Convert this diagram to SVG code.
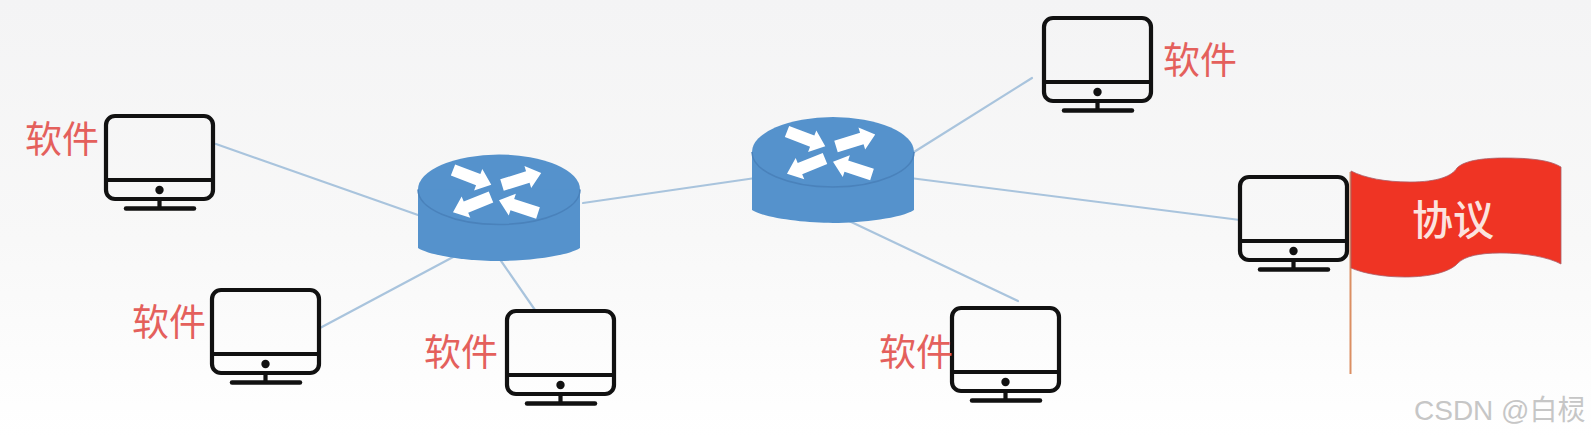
<svg xmlns="http://www.w3.org/2000/svg" width="1591" height="437" viewBox="0 0 1591 437">
<style>
.ln{stroke:#a9c4dd;stroke-width:2.2;fill:none;stroke-linecap:round}
.m{fill:none;stroke:#111111;stroke-width:4.200}
.lab{font-family:"Noto Sans CJK SC","Liberation Sans",sans-serif;font-size:37px;fill:#e4605c;text-anchor:middle;dominant-baseline:central}
.body{fill:#5592cc}
.rim{fill:none;stroke:#4a82bb;stroke-width:1.500}
.wm{font-family:"Liberation Sans","Noto Sans CJK SC",sans-serif;font-size:28px;fill:#c6c6c6}
</style>
<defs>
<linearGradient id="bg" x1="0" y1="0" x2="0" y2="1"><stop offset="0" stop-color="#f4f4f5"/><stop offset="0.55" stop-color="#f8f8f8"/><stop offset="0.86" stop-color="#fdfdfd"/><stop offset="1" stop-color="#ffffff"/></linearGradient>
<path id="ar" d="M0-6H27V-11.500L41 0L27 11.500V6H0Z" fill="#ffffff"/>
<g id="monitor">
<rect class="m" x="1" y="1" width="107" height="83" rx="9"/>
<path class="m" d="M1 65H108M54.500 84V93"/>
<path d="M21 93.500H89" stroke="#111111" stroke-width="4.500" stroke-linecap="round"/>
<circle cx="54.500" cy="75" r="4.200" fill="#111111"/>
</g>
<g id="arrows">
<use href="#ar" transform="translate(453 170) rotate(21)"/>
<use href="#ar" transform="translate(502 185) rotate(-17)"/>
<use href="#ar" transform="translate(491 197) rotate(158)"/>
<use href="#ar" transform="translate(538 213) rotate(198)"/>
</g>
</defs>
<rect width="1591" height="437" fill="url(#bg)"/>
<g id="connectors">
<path class="ln" d="M216 144L418 215"/>
<path class="ln" d="M320 328L455 256"/>
<path class="ln" d="M499 258L535 310"/>
<path class="ln" d="M583 203L752 178.500"/>
<path class="ln" d="M914 152L1032 78"/>
<path class="ln" d="M914 178.500L1240 220"/>
<path class="ln" d="M847 220L1018 301"/>
</g>
<g id="router1">
<ellipse class="body" cx="499" cy="189.500" rx="81" ry="35"/>
<path class="body" d="M418 189.500V248C430 256 470 261 499 261S568 256 580 248V189.500Z"/>
<path class="rim" d="M418 189.500A81 35 0 0 0 580 189.500"/>
<use href="#arrows"/>
</g>
<g id="router2">
<ellipse class="body" cx="833" cy="152" rx="81" ry="35"/>
<path class="body" d="M752 152V210C764 218 804 223 833 223S902 218 914 210V152Z"/>
<path class="rim" d="M752 152A81 35 0 0 0 914 152"/>
<use href="#arrows" transform="translate(334 -38.500)"/>
</g>
<g id="pc1"><use href="#monitor" x="105" y="115"/><text class="lab" x="62" y="137">软件</text></g>
<g id="pc2"><use href="#monitor" x="211" y="289"/><text class="lab" x="169" y="320">软件</text></g>
<g id="pc3"><use href="#monitor" x="506" y="310"/><text class="lab" x="461" y="350">软件</text></g>
<g id="pc4"><use href="#monitor" x="951" y="307"/><text class="lab" x="916" y="350">软件</text></g>
<g id="pc5"><use href="#monitor" x="1043" y="17"/><text class="lab" x="1200" y="58">软件</text></g>
<g id="pc6"><use href="#monitor" x="1239" y="176"/></g>
<g id="flag">
<path d="M1350.500 172V374" stroke="#db8f63" stroke-width="2" fill="none"/>
<path d="M1351 171C1365 178 1385 182 1410 182C1438 182 1452 176 1457 168C1465 160 1485 158 1505 158C1530 158 1550 160 1561 167V264C1548 257 1525 253 1500 253C1480 253 1465 256 1458 263C1450 272 1430 277 1405 277C1385 277 1365 274 1351 268Z" fill="#ef3424" stroke="#a9606a" stroke-width="0.800"/>
<text x="1453" y="217" style="font-family:'Noto Sans CJK SC','Liberation Sans',sans-serif;font-size:41px;font-weight:500;fill:#fbe3df;text-anchor:middle;dominant-baseline:central">协议</text>
</g>
<text class="wm" x="1414" y="420">CSDN @白棂</text>
</svg>
